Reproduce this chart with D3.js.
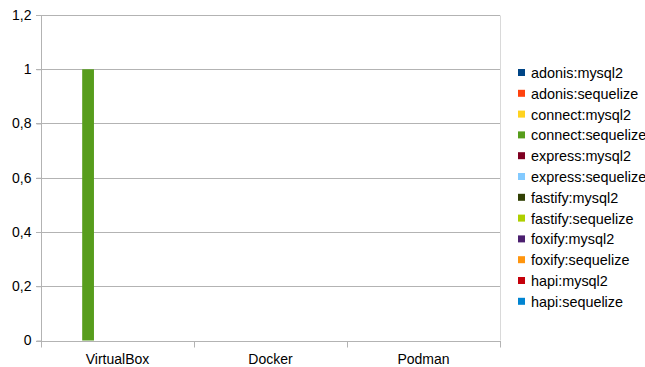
<!DOCTYPE html>
<html>
<head>
<meta charset="utf-8">
<script src="https://cdn.jsdelivr.net/npm/d3@7"></script>
<style>
  body { margin: 0; background: #fff; overflow: hidden; }
  text { font-family: "Liberation Sans", Arial, sans-serif; fill: #000; }
</style>
</head>
<body>
<div id="chart"></div>
<script>
// categories on the x axis
const platforms = ["VirtualBox", "Docker", "Podman"];
// one series per framework:driver
const seriesNames = [
  "adonis:mysql2", "adonis:sequelize", "connect:mysql2", "connect:sequelize",
  "express:mysql2", "express:sequelize", "fastify:mysql2", "fastify:sequelize",
  "foxify:mysql2", "foxify:sequelize", "hapi:mysql2", "hapi:sequelize"
];
const seriesColors = [
  "#004586", "#ff420e", "#ffd320", "#579d1c", "#7e0021", "#83caff",
  "#314004", "#aecf00", "#4b1f6f", "#ff950e", "#c5000b", "#0084d1"
];
// values per series, in platform order
const adonisMysql2 = [0, 0, 0];
const adonisSequelize = [0, 0, 0];
const connectMysql2 = [0, 0, 0];
const connectSequelize = [1, 0, 0];
const expressMysql2 = [0, 0, 0];
const expressSequelize = [0, 0, 0];
const fastifyMysql2 = [0, 0, 0];
const fastifySequelize = [0, 0, 0];
const foxifyMysql2 = [0, 0, 0];
const foxifySequelize = [0, 0, 0];
const hapiMysql2 = [0, 0, 0];
const hapiSequelize = [0, 0, 0];
const yTicks = [0, 0.2, 0.4, 0.6, 0.8, 1, 1.2];

const seriesValues = [
  adonisMysql2, adonisSequelize, connectMysql2, connectSequelize,
  expressMysql2, expressSequelize, fastifyMysql2, fastifySequelize,
  foxifyMysql2, foxifySequelize, hapiMysql2, hapiSequelize
];

const width = 645, height = 367;
const plotLeft = 41, plotRight = 500, plotTop = 15, plotBottom = 340.5;

const svg = d3.select("#chart").append("svg")
  .attr("width", width).attr("height", height);

const y = d3.scaleLinear().domain([0, 1.2]).range([plotBottom, plotTop]);
const x0 = d3.scaleBand().domain(platforms).range([plotLeft, plotRight]).padding(0);
const bw = x0.bandwidth() / (seriesNames.length + 1);
const x1 = d3.scaleBand().domain(seriesNames)
  .range([bw / 2, x0.bandwidth() - bw / 2]).padding(0);

// grid
svg.append("g")
  .selectAll("line")
  .data(yTicks)
  .enter().append("line")
  .attr("x1", plotLeft - 5).attr("x2", plotRight)
  .attr("y1", d => Math.round(y(d)) + 0.5)
  .attr("y2", d => Math.round(y(d)) + 0.5)
  .style("stroke", "#b3b3b3");

// right wall edge
svg.append("line")
  .attr("x1", plotRight + 0.5).attr("x2", plotRight + 0.5)
  .attr("y1", plotTop + 0.5).attr("y2", plotBottom)
  .style("stroke", "#d9d9d9");

// bars
const groups = svg.append("g").selectAll("g")
  .data(platforms)
  .enter().append("g")
  .attr("transform", d => `translate(${x0(d)},0)`);

groups.selectAll("rect")
  .data((p, pi) => seriesNames.map((s, si) => ({ s: s, v: seriesValues[si][pi], c: seriesColors[si] })))
  .enter().append("rect")
  .filter(d => d.v > 0)
  .attr("x", d => x1(d.s))
  .attr("width", x1.bandwidth())
  .attr("y", d => y(d.v))
  .attr("height", d => y(0) - y(d.v))
  .style("fill", d => d.c);

// y axis
const yAxis = svg.append("g")
  .attr("transform", `translate(${plotLeft + 0.5},0)`)
  .call(d3.axisLeft(y).tickValues(yTicks).tickSize(5).tickPadding(5)
    .tickFormat(d => String(d).replace(".", ",")));
yAxis.select(".domain").style("stroke", "#b3b3b3").attr("d", `M0,${plotTop}V${plotBottom + 6}`);
yAxis.selectAll(".tick line").style("stroke", "#b3b3b3");
yAxis.selectAll(".tick text").style("font-size", "14px").style("font-family", "Liberation Sans, Arial, sans-serif");

// x axis
const xAxis = svg.append("g")
  .attr("transform", `translate(0,${Math.round(plotBottom) + 0.5})`);
xAxis.append("line")
  .attr("x1", plotLeft).attr("x2", plotRight + 1)
  .style("stroke", "#b3b3b3");
xAxis.selectAll(".sep")
  .data(platforms.map(p => x0(p)).concat([plotRight]))
  .enter().append("line")
  .attr("class", "sep")
  .attr("x1", d => Math.round(d) + 0.5).attr("x2", d => Math.round(d) + 0.5)
  .attr("y1", 0).attr("y2", 6)
  .style("stroke", "#b3b3b3");
xAxis.selectAll("text")
  .data(platforms)
  .enter().append("text")
  .attr("x", d => x0(d) + x0.bandwidth() / 2)
  .attr("y", 22)
  .attr("text-anchor", "middle")
  .style("font-size", "14px")
  .text(d => d);

// legend
const legend = svg.append("g").attr("transform", "translate(518,69)");
const items = legend.selectAll("g")
  .data(seriesNames)
  .enter().append("g")
  .attr("transform", (d, i) => `translate(0,${i * 20.8})`);
items.append("rect")
  .attr("width", 7).attr("height", 7)
  .style("fill", (d, i) => seriesColors[i]);
items.append("text")
  .attr("x", 13).attr("y", 9)
  .style("font-size", "14.4px")
  .text(d => d);
</script>
</body>
</html>
